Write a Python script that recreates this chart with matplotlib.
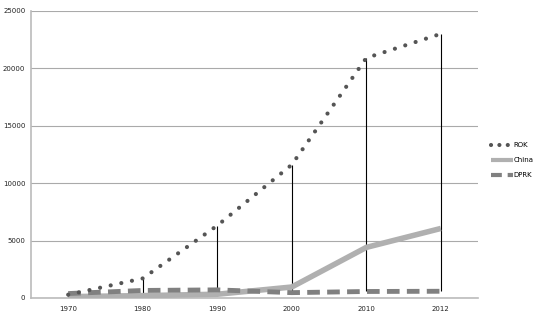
import matplotlib
matplotlib.use("Agg")
import matplotlib.pyplot as plt
import numpy as np

years = ["1970", "1980", "1990", "2000", "2010", "2012"]
rok = [280, 1700, 6300, 11600, 20900, 23000]
china = [110, 200, 320, 950, 4400, 6050]
dprk = [380, 650, 700, 460, 560, 580]

fig = plt.figure(figsize=(5.33, 3.2), dpi=100)
ax = fig.add_axes([0.058, 0.069, 0.839, 0.897])

x = np.arange(len(years))

# lineas alto-bajo (de maximo a minimo en cada categoria)
hi = np.max([rok, china, dprk], axis=0)
lo = np.min([rok, china, dprk], axis=0)
ax.vlines(x, lo, hi, color="black", linewidth=0.8, zorder=2)

ax.plot(x, rok, color="#555555", linewidth=3, linestyle=(0, (0.01, 2.6)),
        dash_capstyle="round", label="ROK", zorder=4)
ax.plot(x, china, color="#b0b0b0", linewidth=4, solid_capstyle="butt",
        label="China", zorder=3)
ax.plot(x, dprk, color="#808080", linewidth=3.5, linestyle=(0, (2.6, 1.5)),
        dash_capstyle="butt", label="DPRK", zorder=3)

ax.set_xlim(-0.5, len(years) - 0.5)
ax.set_ylim(0, 25000)
ax.set_yticks(range(0, 25001, 5000))
ax.set_xticks(x)
ax.set_xticklabels(years)
ax.tick_params(length=0, labelsize=5, colors="#222222", pad=6)
ax.tick_params(axis="y", pad=4)
ax.grid(axis="y", color="#aaaaaa", linewidth=0.8)
ax.set_axisbelow(True)
for s in ["top", "right"]:
    ax.spines[s].set_visible(False)
ax.spines["left"].set_color("#bbbbbb")
ax.spines["bottom"].set_color("#bbbbbb")
ax.spines["left"].set_linewidth(1.2)
ax.spines["bottom"].set_linewidth(1.2)

leg = ax.legend(loc="center left", bbox_to_anchor=(1.025, 0.48), frameon=False,
                borderaxespad=0, borderpad=0.2, fontsize=5, handlelength=3.2,
                handletextpad=0.1, labelspacing=1.3)
lineas = leg.get_lines()
lineas[0].set_linestyle((0, (0.01, 2.0)))
lineas[1].set_linewidth(3)
lineas[2].set_linewidth(3)
lineas[2].set_linestyle((0, (2.6, 1.4)))

fig.savefig("out.png", dpi=100)
